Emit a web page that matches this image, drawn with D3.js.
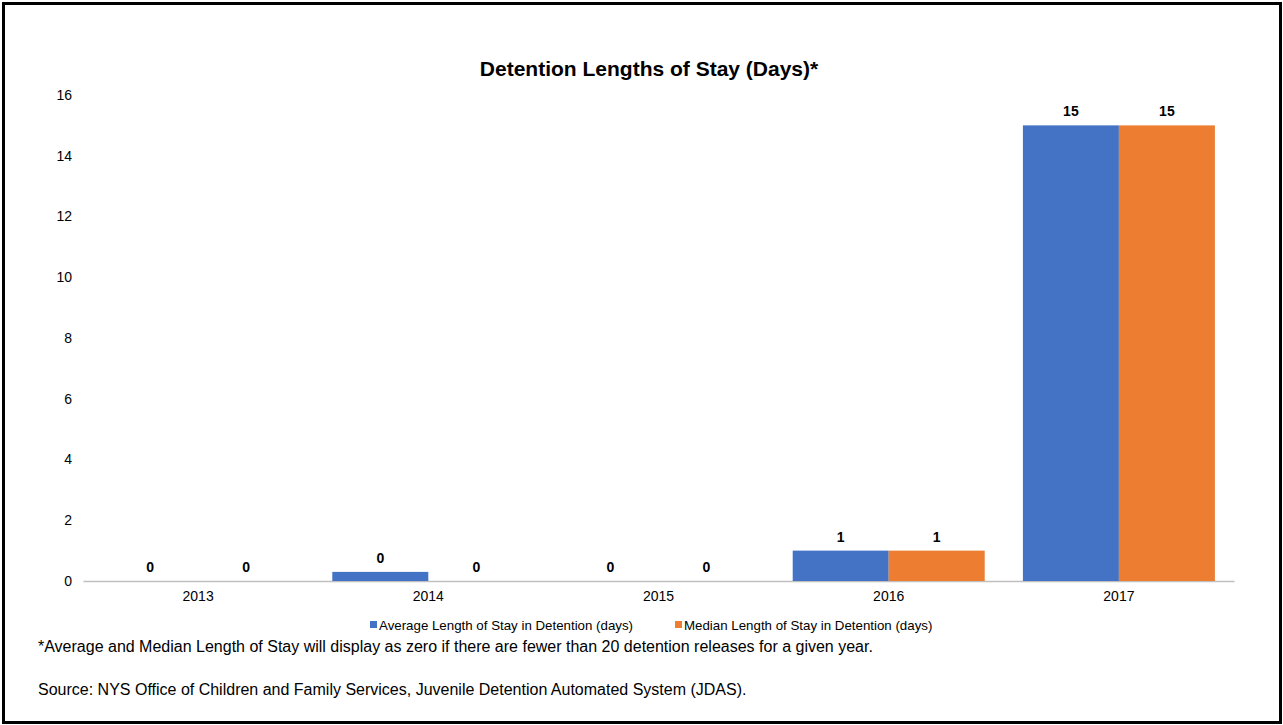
<!DOCTYPE html>
<html>
<head>
<meta charset="utf-8">
<script src="https://cdn.jsdelivr.net/npm/d3@7"></script>
<style>
  body { margin: 0; background: #fff; font-family: "Liberation Sans", Arial, sans-serif; }
</style>
</head>
<body>
<div id="chart"></div>
<script>
var years = ["2013", "2014", "2015", "2016", "2017"];
var seriesNames = ["Average Length of Stay in Detention (days)", "Median Length of Stay in Detention (days)"];
var averageStay = [0, 0.3, 0, 1, 15];
var medianStay = [0, 0, 0, 1, 15];
var yTicks = [0, 2, 4, 6, 8, 10, 12, 14, 16];
var colors = ["#4472C4", "#ED7D31"];

var width = 1283, height = 725;
var margin = { left: 83, right: 49, top: 95, bottom: 144 };

var svg = d3.select("#chart").append("svg")
    .attr("width", width)
    .attr("height", height);

// outer frame
svg.append("rect")
    .attr("x", 3.5).attr("y", 3.5)
    .attr("width", width - 6).attr("height", height - 6)
    .attr("fill", "#fff")
    .attr("stroke", "#000")
    .attr("stroke-width", 3);

var x0 = d3.scaleBand()
    .domain(years)
    .range([margin.left, width - margin.right])
    .padding(0);

var x1 = d3.scaleBand()
    .domain([0, 1])
    .range([x0.bandwidth() * 0.083, x0.bandwidth() * 0.917]);

var y = d3.scaleLinear()
    .domain([0, 16])
    .range([height - margin.bottom, margin.top]);

svg.append("text")
    .attr("x", 649).attr("y", 76)
    .attr("text-anchor", "middle")
    .attr("font-size", "21px")
    .attr("font-weight", "bold")
    .text("Detention Lengths of Stay (Days)*");

// y axis labels only
var yAxis = svg.append("g")
    .attr("transform", "translate(" + (margin.left - 11) + ",0)")
    .call(d3.axisLeft(y).tickValues(yTicks).tickSize(0).tickPadding(0));
yAxis.select(".domain").remove();
yAxis.selectAll("text")
    .attr("font-family", "Liberation Sans, Arial, sans-serif")
    .attr("font-size", "14px")
    .attr("fill", "#000");

var xAxis = svg.append("g")
    .attr("transform", "translate(0," + y(0) + ")")
    .call(d3.axisBottom(x0).tickSize(0).tickPadding(10));
xAxis.select(".domain").attr("stroke", "#BFBFBF").attr("stroke-width", 1.5);
xAxis.selectAll("text")
    .attr("font-family", "Liberation Sans, Arial, sans-serif")
    .attr("font-size", "14px")
    .attr("fill", "#000");

var rows = years.map(function (yr, i) {
    return { year: yr, values: [averageStay[i], medianStay[i]] };
});

var groups = svg.selectAll(".year")
    .data(rows)
    .enter().append("g")
    .attr("class", "year")
    .attr("transform", function (d) { return "translate(" + x0(d.year) + ",0)"; });

var cells = groups.selectAll(".cell")
    .data(function (d) { return d.values.map(function (v, k) { return { k: k, v: v }; }); })
    .enter().append("g")
    .attr("class", "cell");

cells.append("rect")
    .attr("x", function (d) { return x1(d.k); })
    .attr("y", function (d) { return y(d.v); })
    .attr("width", x1.bandwidth())
    .attr("height", function (d) { return y(0) - y(d.v); })
    .attr("fill", function (d) { return colors[d.k]; });

cells.append("text")
    .attr("x", function (d) { return x1(d.k) + x1.bandwidth() / 2; })
    .attr("y", function (d) { return y(d.v) - 9; })
    .attr("text-anchor", "middle")
    .attr("font-size", "14px")
    .attr("font-weight", "bold")
    .text(function (d) { return d3.format(".0f")(d.v); });

// legend
var legendX = [370, 675];
var legend = svg.selectAll(".legend")
    .data(seriesNames)
    .enter().append("g")
    .attr("class", "legend")
    .attr("transform", function (d, i) { return "translate(" + legendX[i] + ",621)"; });
legend.append("rect")
    .attr("width", 7).attr("height", 7)
    .attr("fill", function (d, i) { return colors[i]; });
legend.append("text")
    .attr("x", 9).attr("y", 8.5)
    .attr("font-size", "13.3px")
    .text(function (d) { return d; });

svg.append("text")
    .attr("x", 38).attr("y", 652)
    .attr("font-size", "16px")
    .text("*Average and Median Length of Stay will display as zero if there are fewer than 20 detention releases for a given year.");

svg.append("text")
    .attr("x", 38).attr("y", 695)
    .attr("font-size", "16px")
    .text("Source: NYS Office of Children and Family Services, Juvenile Detention Automated System (JDAS).");
</script>
</body>
</html>
